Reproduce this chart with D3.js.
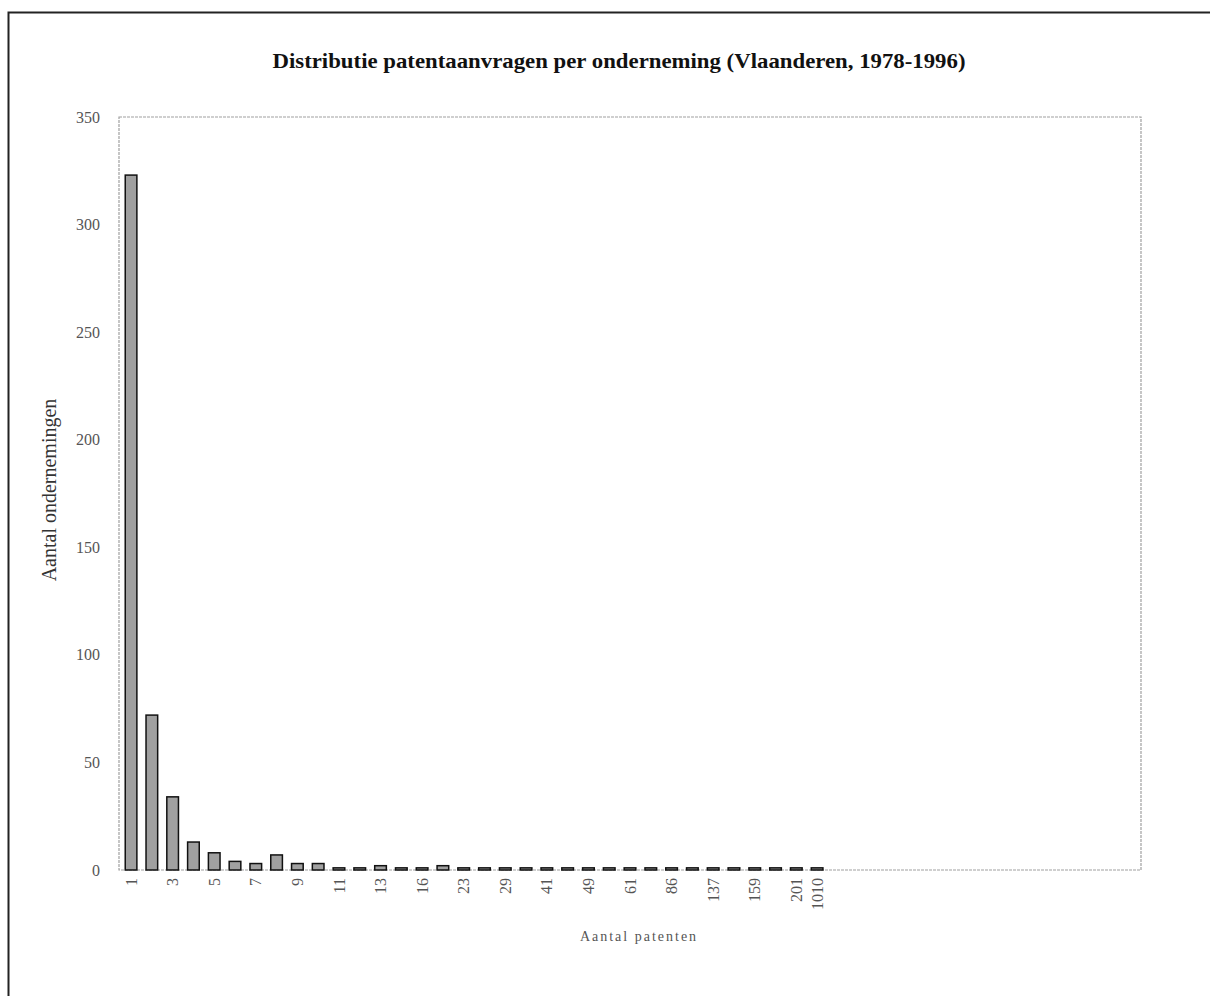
<!DOCTYPE html>
<html><head><meta charset="utf-8">
<script src="https://cdn.jsdelivr.net/npm/d3@7"></script>
<style>body{margin:0;background:#fff}svg{display:block}</style>
</head><body>
<script>
const title = "Distributie patentaanvragen per onderneming (Vlaanderen, 1978-1996)";
const xTitle = "Aantal patenten";
const yTitle = "Aantal ondernemingen";
// patent counts (categories) and number of firms per category
const categories = ["1","2","3","4","5","6","7","8","9","10","11","12","13","14","16","18","23","26","29","35","41","45","49","55","61","70","86","100","137","150","159","180","201","1010"];
const firms = [323,72,34,13,8,4,3,7,3,3,1,1,2,1,1,2,1,1,1,1,1,1,1,1,1,1,1,1,1,1,1,1,1,1];
const labelEvery = 2;
const slotCount = 49; // category axis includes empty slots to the right
const yTicks = [0,50,100,150,200,250,300,350];

const W = 1210, H = 996;
const m = {left:119, right:1141, top:117, bottom:870};
const svg = d3.select("body").append("svg").attr("width",W).attr("height",H);

// outer frame
svg.append("path").attr("d",`M8.5,${H} L8.5,12.5 L${W},12.5`).attr("fill","none").attr("stroke","#222").attr("stroke-width",2);

svg.append("text").attr("x",619).attr("y",68).attr("text-anchor","middle")
  .attr("font-family","Liberation Serif, serif").attr("font-weight","bold").attr("font-size",21)
  .attr("fill","#111").attr("textLength",693).attr("lengthAdjust","spacingAndGlyphs").text(title);

const x = d3.scaleBand().domain(d3.range(slotCount)).range([m.left,m.right]).paddingInner(0.44).paddingOuter(0.3);
const y = d3.scaleLinear().domain([0,350]).range([m.bottom,m.top]);

// plot area border
svg.append("rect").attr("x",m.left).attr("y",m.top).attr("width",m.right-m.left).attr("height",m.bottom-m.top)
  .attr("fill","none").attr("stroke","#a0a0a0").attr("stroke-width",1.2).attr("stroke-dasharray","3,1");

// y axis
const yAxis = d3.axisLeft(y).tickValues(yTicks).tickSize(0).tickPadding(19);
const gy = svg.append("g").attr("transform",`translate(${m.left},0)`).call(yAxis);
gy.select(".domain").remove();
gy.selectAll("text").attr("font-family","Liberation Serif, serif").attr("font-size",16).attr("fill","#555");

// x axis
const xAxis = d3.axisBottom(x).tickSize(0)
  .tickValues(d3.range(categories.length).filter(i => i % labelEvery === 0 || i === categories.length-1))
  .tickFormat(i => categories[i]);
const gx = svg.append("g").attr("transform",`translate(0,${m.bottom})`).call(xAxis);
gx.select(".domain").remove();
gx.selectAll("text").attr("font-family","Liberation Serif, serif").attr("font-size",16).attr("fill","#555")
  .attr("text-anchor","end").attr("transform","rotate(-90)").attr("x",-8).attr("y",0).attr("dy","0.35em");

// bars
svg.append("g").selectAll("rect").data(firms).join("rect")
  .attr("x",(d,i)=>x(i)).attr("width",x.bandwidth())
  .attr("y",d=>y(d)).attr("height",d=>y(0)-y(d))
  .attr("fill","#a0a0a0").attr("stroke","#111").attr("stroke-width",1.5);

// axis titles
svg.append("text").attr("transform",`translate(56,490) rotate(-90)`).attr("text-anchor","middle")
  .attr("font-family","Liberation Serif, serif").attr("font-size",20).attr("fill","#333").text(yTitle);
svg.append("text").attr("x",639).attr("y",941).attr("text-anchor","middle")
  .attr("font-family","Liberation Serif, serif").attr("font-size",14).attr("letter-spacing","2px").attr("fill","#555").text(xTitle);
</script>
</body></html>
